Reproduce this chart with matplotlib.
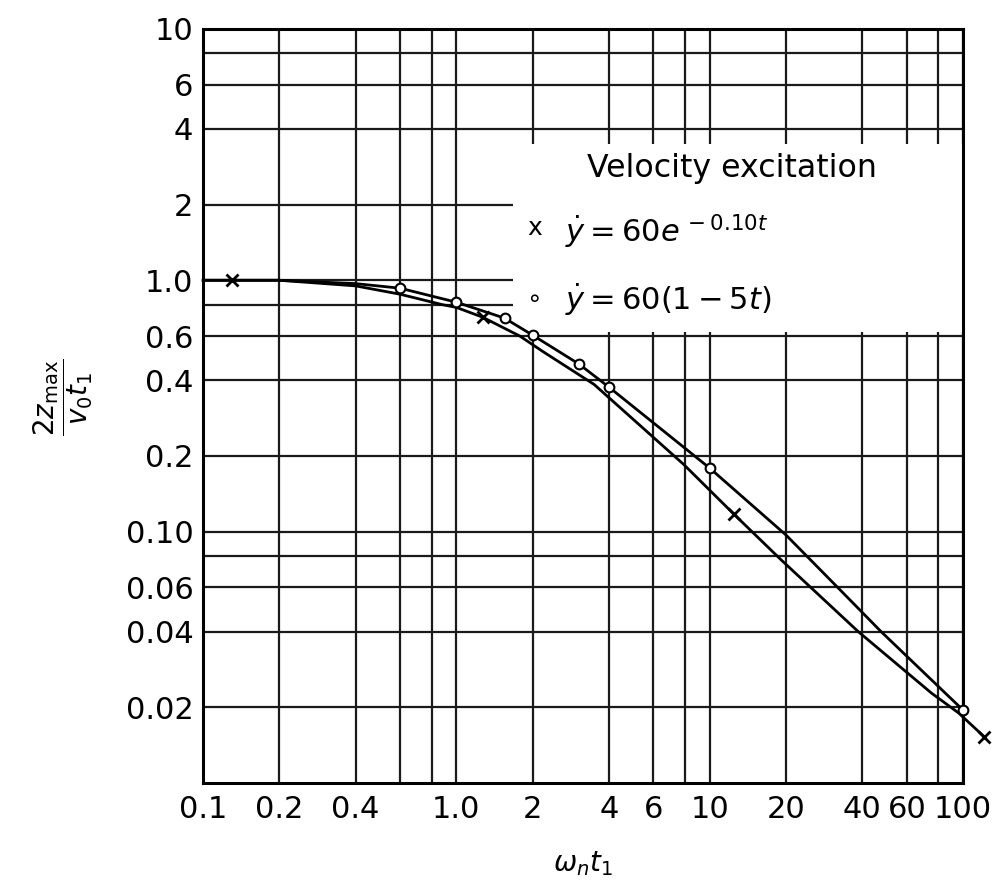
import matplotlib
matplotlib.use('Agg')
import matplotlib.pyplot as plt
from matplotlib.patches import Rectangle
from matplotlib.ticker import FixedLocator, FixedFormatter, NullFormatter

# values (log-log)
# x markers: velocity y' = 60 exp(-0.10 t)
exp_x = [0.1, 0.13, 0.2, 0.4, 0.6, 0.88, 1.0, 1.27, 1.78, 2.2, 3.5, 7.9, 12.5, 19.2, 38.6, 75, 96, 121]
exp_y = [1.0, 1.0, 1.0, 0.95, 0.88, 0.80, 0.78, 0.713, 0.60, 0.52, 0.385, 0.185, 0.117, 0.077, 0.04, 0.0228, 0.019, 0.0153]
exp_mark_x = [0.13, 1.27, 12.5, 121]
exp_mark_y = [1.0, 0.713, 0.117, 0.0153]

# o markers: velocity y' = 60 (1 - 5t)
lin_x = [0.1, 0.2, 0.4, 0.6, 1.0, 1.55, 2.0, 3.05, 4.0, 10, 20, 32, 47.5, 100]
lin_y = [1.0, 1.0, 0.97, 0.93, 0.818, 0.707, 0.605, 0.464, 0.376, 0.179, 0.097, 0.06, 0.04, 0.0195]
lin_mark_x = [0.6, 1.0, 1.55, 2.0, 3.05, 4.0, 10, 100]
lin_mark_y = [0.93, 0.818, 0.707, 0.605, 0.464, 0.376, 0.179, 0.0195]

xticks = [0.1, 0.2, 0.4, 1.0, 2, 4, 6, 10, 20, 40, 60, 100]
xtick_labels = ['0.1', '0.2', '0.4', '1.0', '2', '4', '6', '10', '20', '40', '60', '100']
xgrid_minor = [0.6, 0.8, 8, 80]
yticks = [0.02, 0.04, 0.06, 0.1, 0.2, 0.4, 0.6, 1.0, 2, 4, 6, 10]
ytick_labels = ['0.02', '0.04', '0.06', '0.10', '0.2', '0.4', '0.6', '1.0', '2', '4', '6', '10']
ygrid_minor = [0.08, 0.8, 8]

plt.rcParams['font.family'] = ['DejaVu Sans']
plt.rcParams['mathtext.fontset'] = 'dejavusans'

fig = plt.figure(figsize=(9.97, 8.85), dpi=100)
ax = fig.add_axes([0.2036, 0.1153, 0.7623, 0.852])
ax.set_xscale('log')
ax.set_yscale('log')
ax.set_xlim(0.1, 100)
ax.set_ylim(0.01, 10)

ax.xaxis.set_major_locator(FixedLocator(xticks))
ax.xaxis.set_major_formatter(FixedFormatter(xtick_labels))
ax.xaxis.set_minor_locator(FixedLocator(xgrid_minor))
ax.xaxis.set_minor_formatter(NullFormatter())
ax.yaxis.set_major_locator(FixedLocator(yticks))
ax.yaxis.set_major_formatter(FixedFormatter(ytick_labels))
ax.yaxis.set_minor_locator(FixedLocator(ygrid_minor))
ax.yaxis.set_minor_formatter(NullFormatter())
ax.tick_params(which='both', length=0, labelsize=22)
ax.tick_params(axis='x', pad=9)
ax.tick_params(axis='y', pad=7)

ax.set_axisbelow(True)
ax.grid(True, which='both', color='#1a1a1a', linewidth=1.6)
for s in ax.spines.values():
    s.set_linewidth(2.2)

# blank panel behind the legend text
ax.add_patch(Rectangle((1.67, 0.62), 100 - 1.67, 3.5 - 0.62, facecolor='white',
                       edgecolor='none', zorder=1))

ax.plot(exp_x, exp_y, color='black', linewidth=2, zorder=3, clip_on=False)
ax.plot(lin_x, lin_y, color='black', linewidth=2, zorder=3)
ax.plot(exp_mark_x, exp_mark_y, linestyle='none', marker='x', markersize=8,
        markeredgewidth=2, color='black', zorder=4, clip_on=False)
ax.plot(lin_mark_x, lin_mark_y, linestyle='none', marker='o', markersize=7,
        markerfacecolor='white', markeredgecolor='black', markeredgewidth=1.5,
        zorder=4, clip_on=False)

ax.text(0.505, 0.804, 'Velocity excitation', transform=ax.transAxes, fontsize=22.8,
        ha='left', va='baseline', zorder=5)
ax.text(0.437, 0.736, 'x', transform=ax.transAxes, fontsize=18, ha='center', va='center', zorder=5)
ax.text(0.476, 0.7175, r'$\dot{y} = 60e^{\,-0.10t}$', transform=ax.transAxes, fontsize=22,
        ha='left', va='baseline', zorder=5)
ax.text(0.434, 0.645, r'$\circ$', transform=ax.transAxes, fontsize=18, ha='center', va='center', zorder=5)
ax.text(0.476, 0.627, r'$\dot{y} = 60(1-5t)$', transform=ax.transAxes, fontsize=22,
        ha='left', va='baseline', zorder=5)

ax.set_xlabel(r'$\omega_n t_1$', fontsize=20)
ax.xaxis.set_label_coords(0.5, -0.088)
ax.set_ylabel(r'$\dfrac{2z_{\rm max}}{v_0 t_1}$', fontsize=20, rotation=90)
ax.yaxis.set_label_coords(-0.142, 0.512)

fig.savefig('out.png', dpi=100)
